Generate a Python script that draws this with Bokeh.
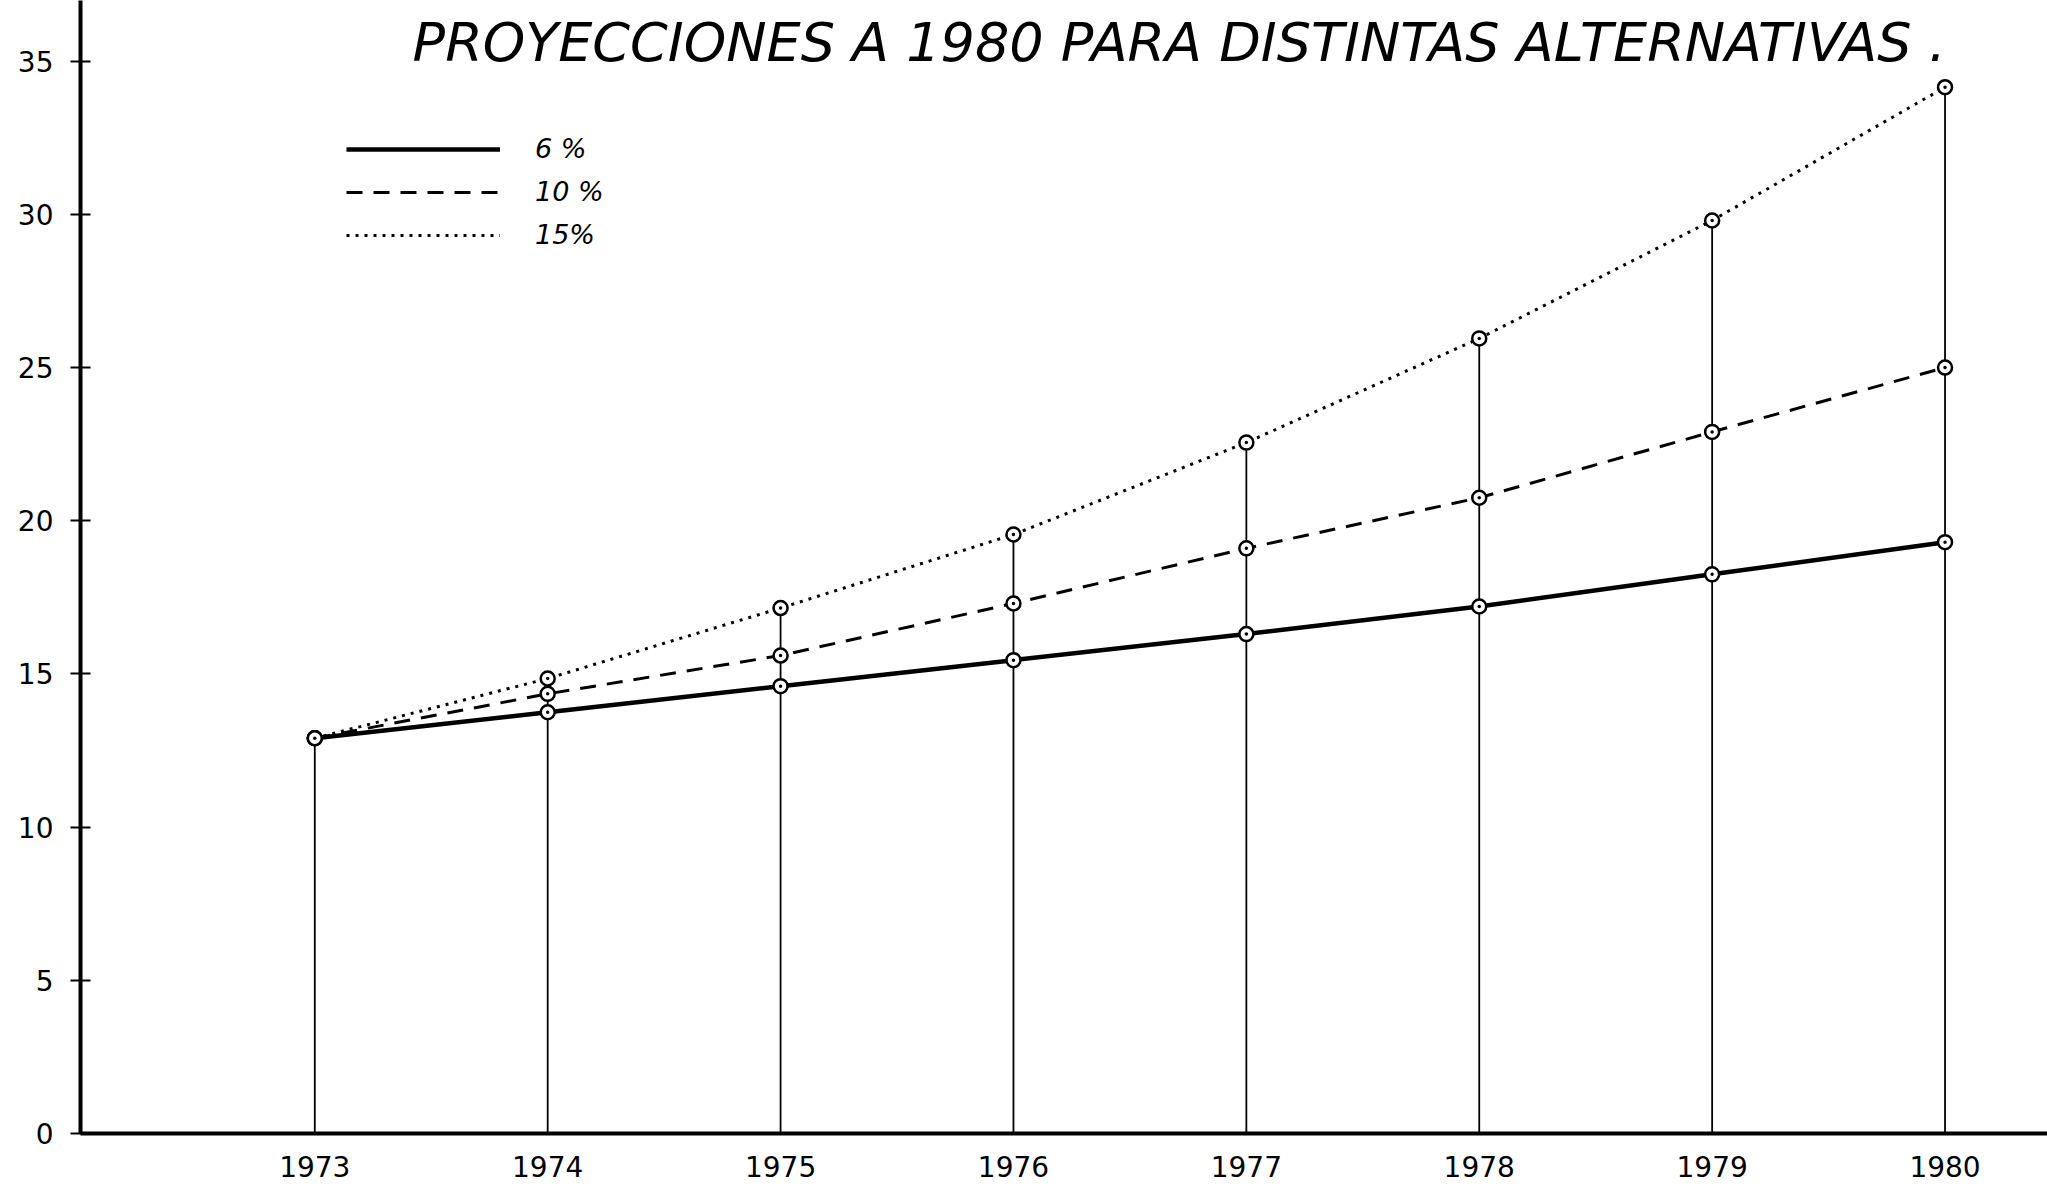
from bokeh.plotting import figure
from bokeh.models import Range1d, FixedTicker, Legend, LegendItem, Label, ColumnDataSource
from bokeh.embed import file_html
from bokeh.resources import INLINE

years = [1973, 1974, 1975, 1976, 1977, 1978, 1979, 1980]
g6 = [12.9, 13.75, 14.6, 15.45, 16.3, 17.2, 18.25, 19.3]
g10 = [12.9, 14.35, 15.6, 17.3, 19.1, 20.75, 22.9, 25.0]
g15 = [12.9, 14.85, 17.15, 19.55, 22.55, 25.95, 29.8, 34.15]
y_ticks = [0, 5, 10, 15, 20, 25, 30, 35]
labels = ["6 %", "10 %", "15%"]
title_text = "PROYECCIONES A 1980 PARA DISTINTAS ALTERNATIVAS ."

tops = [max(a, b, c) for a, b, c in zip(g6, g10, g15)]
base = [0] * len(years)

p = figure(width=2047, height=1195, output_backend="svg", toolbar_location=None,
           x_range=Range1d(1971.994, 1980.44), y_range=Range1d(0, 36.98),
           min_border_left=80, min_border_right=0, min_border_top=0, min_border_bottom=62)
p.outline_line_color = None
p.grid.visible = False
p.background_fill_color = "white"

# vertical drop lines
p.segment(x0=years, y0=base, x1=years, y1=tops, line_color="black", line_width=1.8)

src = ColumnDataSource(dict(x=years, g6=g6, g10=g10, g15=g15))
r6 = p.line("x", "g6", source=src, line_color="black", line_width=4.5)
r10 = p.line("x", "g10", source=src, line_color="black", line_width=3, line_dash="16 11")
r15 = p.line("x", "g15", source=src, line_color="black", line_width=3, line_dash="3 6")
for col in ["g6", "g10", "g15"]:
    p.scatter("x", col, source=src, marker="circle_dot", size=14, fill_color="white",
              line_color="black", line_width=2.5)

# axes
p.yaxis.ticker = FixedTicker(ticks=y_ticks)
p.yaxis.major_tick_in = 10
p.yaxis.major_tick_out = 10
p.yaxis.major_tick_line_width = 2
p.yaxis.minor_tick_line_color = None
p.yaxis.axis_line_width = 4
p.yaxis.major_label_standoff = 17
p.yaxis.major_label_text_font = "DejaVu Sans"
p.yaxis.major_label_text_font_size = "28px"
p.yaxis.major_label_text_color = "black"

p.xaxis.ticker = FixedTicker(ticks=years)
p.xaxis.major_tick_in = 0
p.xaxis.major_tick_out = 0
p.xaxis.minor_tick_line_color = None
p.xaxis.axis_line_width = 4
p.xaxis.major_label_standoff = 22
p.xaxis.major_label_text_font = "DejaVu Sans"
p.xaxis.major_label_text_font_size = "28px"
p.xaxis.major_label_text_color = "black"

legend = Legend(items=[LegendItem(label=labels[0], renderers=[r6]),
                       LegendItem(label=labels[1], renderers=[r10]),
                       LegendItem(label=labels[2], renderers=[r15])],
                location=(266, 883), glyph_width=154, glyph_height=28, label_height=28,
                spacing=12, padding=0, margin=0, label_standoff=35,
                border_line_color=None, background_fill_alpha=0,
                label_text_font="DejaVu Sans", label_text_font_size="27px",
                label_text_font_style="italic", label_text_color="black")
p.add_layout(legend)

title = Label(x=1973.42, y=35.61, text=title_text, text_font="DejaVu Sans",
              text_font_style="italic", text_font_size="54px", text_color="black",
              text_baseline="alphabetic", text_align="left")
p.add_layout(title)

open("out.html", "w").write(file_html(p, INLINE))
